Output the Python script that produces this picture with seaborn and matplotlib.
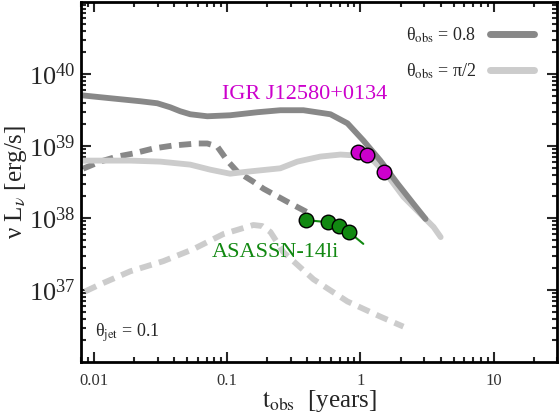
import numpy as np
import pandas as pd
import matplotlib
matplotlib.use("Agg")
import matplotlib.pyplot as plt
from matplotlib.lines import Line2D
import seaborn as sns

# theta_obs = 0.8, solid and dashed (log10 of nu L_nu)
t_dark = [0.0079, 0.0111, 0.0157, 0.0222, 0.0298, 0.0373, 0.0443, 0.0527, 0.0708, 0.105,
          0.168, 0.250, 0.373, 0.595, 0.799, 1.05, 1.41, 1.90, 2.50, 3.08]
L_dark = [39.706, 39.678, 39.650, 39.622, 39.594, 39.538, 39.483, 39.441, 39.413, 39.427,
          39.469, 39.497, 39.497, 39.441, 39.315, 39.077, 38.797, 38.476, 38.196, 37.986]
t_dark_dash = [0.00827, 0.0111, 0.0149, 0.0196, 0.0278, 0.0393, 0.0595, 0.0708, 0.0841,
               0.100, 0.119, 0.157, 0.187, 0.283, 0.421]
L_dark_dash = [38.685, 38.783, 38.853, 38.895, 38.965, 39.007, 39.035, 39.035, 38.993,
               38.797, 38.643, 38.503, 38.406, 38.224, 38.056]

# theta_obs = pi/2, solid and dashed
t_light = [0.0079, 0.0111, 0.0187, 0.0313, 0.0527, 0.0745, 0.105, 0.141, 0.250, 0.336,
           0.500, 0.707, 0.949, 1.25, 1.60, 2.10, 2.82, 3.54, 4.00]
L_light = [38.797, 38.797, 38.797, 38.783, 38.741, 38.671, 38.615, 38.643, 38.690, 38.783,
           38.853, 38.881, 38.867, 38.797, 38.587, 38.294, 38.056, 37.874, 37.734]
t_light_dash = [0.00856, 0.0111, 0.0187, 0.0330, 0.0555, 0.0933, 0.157, 0.183, 0.211,
                0.264, 0.444, 0.799, 1.41, 2.10]
L_light_dash = [36.979, 37.077, 37.259, 37.399, 37.566, 37.776, 37.902, 37.888, 37.804,
                37.524, 37.147, 36.839, 36.629, 36.490]

# observations
t_igr = [0.95, 1.11, 1.49]
L_igr = [38.92, 38.87, 38.64]
t_asassn = [0.393, 0.574, 0.684, 0.826]
L_asassn = [37.97, 37.94, 37.89, 37.80]
t_asassn_fit = [0.393, 0.574, 0.684, 0.826, 1.05]
L_asassn_fit = [37.97, 37.94, 37.89, 37.80, 37.64]

x_ticks = [0.01, 0.1, 1, 10]
x_ticklabels = ["0.01", "0.1", "1", "10"]
y_exps = [37, 38, 39, 40]

sns.set_style("ticks")
plt.rcParams["font.family"] = ["Liberation Serif", "DejaVu Serif"]
plt.rcParams["mathtext.fontset"] = "stix"

dark = "#888888"
light = "#cccccc"
magenta = "#cc00cc"
green = "#118811"

fig = plt.figure(figsize=(5.6, 4.15), dpi=100)
ax = fig.add_axes([0.145, 0.128, 0.85, 0.867])


def curve(t, L, color, ls):
    df = pd.DataFrame({"t": t, "L": 10 ** np.array(L)})
    sns.lineplot(data=df, x="t", y="L", ax=ax, color=color, lw=4.2,
                 linestyle=ls, sort=False, estimator=None,
                 solid_joinstyle="round", dash_capstyle="butt")


curve(t_light_dash, L_light_dash, light, (0, (2.1, 1.3)))
curve(t_dark_dash, L_dark_dash, dark, (0, (2.1, 1.3)))
curve(t_light, L_light, light, "-")
curve(t_dark, L_dark, dark, "-")

sns.lineplot(x=t_asassn_fit, y=10 ** np.array(L_asassn_fit), ax=ax,
             color=green, lw=1.5, sort=False, estimator=None)
sns.scatterplot(x=t_asassn, y=10 ** np.array(L_asassn), ax=ax, color=green,
                edgecolor="black", linewidth=1.0, s=110, zorder=5)
sns.scatterplot(x=t_igr, y=10 ** np.array(L_igr), ax=ax, color=magenta,
                edgecolor="black", linewidth=1.0, s=110, zorder=5)

ax.set_xscale("log")
ax.set_yscale("log")
ax.set_xlim(0.008, 30)
ax.set_ylim(1e36, 1e41)
ax.set_xticks(x_ticks)
ax.set_xticklabels(x_ticklabels)
ax.set_yticks([10.0 ** e for e in y_exps])
ax.set_yticklabels([r"$\mathdefault{10^{%d}}$" % e for e in y_exps])
ax.tick_params(which="both", direction="in", top=True, right=True, width=1.5)
ax.tick_params(which="major", length=7)
ax.tick_params(which="minor", length=3.5)
ax.tick_params(axis="x", labelsize=12, pad=8, labelcolor="#333333")
ax.tick_params(axis="y", labelsize=19, pad=4)
for s in ax.spines.values():
    s.set_linewidth(2)
    s.set_color("black")

ax.set_xlabel(r"$\mathrm{t}_{\rm obs}$  [years]", fontsize=18, labelpad=-1)
ax.set_ylabel(r"ν L$_\nu$ [erg/s]", fontsize=18, labelpad=0)

ax.text(0.47, 0.742, "IGR J12580+0134", color=magenta, fontsize=16,
        ha="center", va="center", transform=ax.transAxes)
ax.text(0.408, 0.303, "ASASSN-14li", color=green, fontsize=16,
        ha="center", va="center", transform=ax.transAxes)
ax.text(0.03, 0.08, r"θ$_{\rm jet}$ = 0.1", fontsize=13,
        ha="left", va="center", transform=ax.transAxes)

handles = [Line2D([], [], color=dark, lw=5), Line2D([], [], color=light, lw=5)]
ax.legend(handles, [r"θ$_{\rm obs}$ = 0.8", r"θ$_{\rm obs}$ = π/2"],
          loc="upper right", frameon=False, markerfirst=False, fontsize=13,
          handlelength=2.4, labelspacing=0.9, borderaxespad=0.9)

fig.savefig("out.png", dpi=100)
